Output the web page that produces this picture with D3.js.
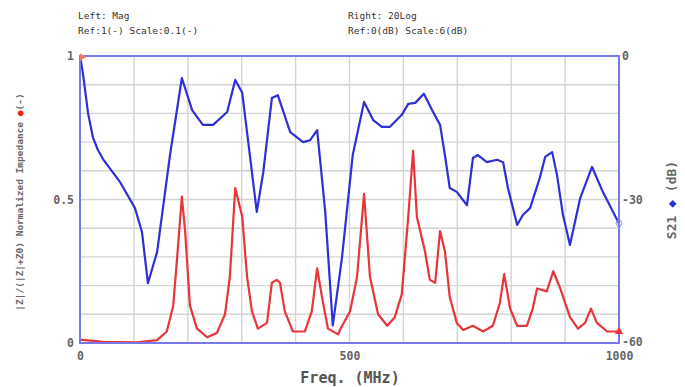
<!DOCTYPE html>
<html>
<head>
<meta charset="utf-8">
<script src="https://cdn.jsdelivr.net/npm/d3@7"></script>
<style>
  html, body { margin: 0; padding: 0; background: #fff; }
  svg { display: block; }
  text { font-family: "DejaVu Sans Mono", "Liberation Mono", monospace; }
</style>
</head>
<body>
<svg id="chart" width="685" height="387"></svg>
<script>
// ---- data ----
const blueFreq = [0, 5, 9, 15, 24, 33, 43, 74, 102, 115, 126, 143, 167, 189, 208, 228, 247, 273, 288, 301, 328, 340, 356, 367, 390, 414, 427, 440, 455, 469, 486, 506, 527, 544, 560, 575, 597, 609, 622, 638, 655, 668, 677, 686, 699, 718, 729, 738, 755, 774, 785, 794, 811, 822, 835, 853, 863, 876, 885, 896, 909, 928, 950, 970, 1000];
const blueDb = [0, -3.3, -6.7, -12.0, -17.0, -19.6, -21.6, -26.3, -31.8, -36.8, -47.5, -41.0, -20.7, -4.6, -11.3, -14.4, -14.4, -11.7, -5.0, -7.7, -32.6, -24.3, -8.8, -8.2, -15.9, -18.0, -17.6, -15.5, -32.6, -56.3, -42.2, -20.7, -9.6, -13.4, -14.8, -14.8, -12.3, -10.0, -9.8, -7.9, -11.7, -14.4, -20.7, -27.6, -28.4, -31.2, -21.3, -20.7, -22.2, -21.7, -22.2, -27.6, -35.3, -33.2, -31.8, -25.5, -21.1, -20.1, -24.9, -33.2, -39.5, -29.7, -23.2, -28.4, -35.0];

const redFreq = [0, 43, 106, 143, 161, 173, 182, 189, 195, 204, 217, 236, 254, 269, 278, 288, 301, 310, 319, 330, 347, 356, 365, 371, 380, 395, 417, 430, 440, 449, 460, 479, 482, 501, 514, 527, 538, 553, 570, 584, 597, 609, 618, 625, 640, 649, 659, 668, 677, 686, 699, 711, 729, 748, 766, 779, 787, 798, 811, 829, 840, 848, 866, 878, 891, 909, 924, 937, 948, 959, 978, 1000];
const redMag = [0.012, 0.004, 0.002, 0.01, 0.04, 0.13, 0.34, 0.51, 0.39, 0.13, 0.05, 0.02, 0.035, 0.10, 0.23, 0.54, 0.44, 0.23, 0.11, 0.05, 0.07, 0.21, 0.22, 0.21, 0.11, 0.04, 0.04, 0.11, 0.26, 0.16, 0.05, 0.03, 0.045, 0.11, 0.23, 0.52, 0.23, 0.10, 0.06, 0.09, 0.17, 0.44, 0.67, 0.44, 0.32, 0.22, 0.21, 0.39, 0.32, 0.16, 0.07, 0.045, 0.06, 0.04, 0.06, 0.14, 0.24, 0.12, 0.06, 0.06, 0.12, 0.19, 0.18, 0.25, 0.19, 0.09, 0.05, 0.07, 0.12, 0.07, 0.04, 0.04];

const xTickValues = [0, 500, 1000];
const leftTickValues = [0, 0.5, 1];
const rightTickValues = [0, -30, -60];
const gridXValues = d3.range(0, 1001, 100);
const gridYValues = d3.range(0, 1.0001, 0.1);

// ---- layout ----
const svg = d3.select("#chart");
const L = 80, R = 619, T = 56, B = 343;

const x = d3.scaleLinear().domain([0, 1000]).range([L, R]);
const yL = d3.scaleLinear().domain([0, 1]).range([B, T]);
const yR = d3.scaleLinear().domain([-60, 0]).range([B, T]);

// grid
svg.append("g").selectAll("line").data(gridXValues).join("line")
  .attr("x1", d => x(d)).attr("x2", d => x(d))
  .attr("y1", T).attr("y2", B)
  .attr("stroke", "#d4d4d4").attr("stroke-width", 1.4);
svg.append("g").selectAll("line").data(gridYValues).join("line")
  .attr("x1", L).attr("x2", R)
  .attr("y1", d => yL(d)).attr("y2", d => yL(d))
  .attr("stroke", "#d4d4d4").attr("stroke-width", 1.4);

// axes
const tickColor = "#666";
const gx = svg.append("g").attr("transform", `translate(0,${B})`)
  .call(d3.axisBottom(x).tickValues(xTickValues).tickSize(0).tickPadding(9).tickFormat(d3.format("d")));
const gl = svg.append("g").attr("transform", `translate(${L},0)`)
  .call(d3.axisLeft(yL).tickValues(leftTickValues).tickSize(0).tickPadding(6).tickFormat(d => d === 0.5 ? "0.5" : String(d)));
const gr = svg.append("g").attr("transform", `translate(${R},0)`)
  .call(d3.axisRight(yR).tickValues(rightTickValues).tickSize(0).tickPadding(3).tickFormat(d => String(d)));
[gx, gl, gr].forEach(g => {
  g.select(".domain").remove();
  g.selectAll("text").attr("fill", tickColor).attr("font-size", 11.5).attr("font-weight", "bold")
    .attr("font-family", "DejaVu Sans Mono, monospace");
});
gr.selectAll(".tick").filter(d => d === -60).select("text").attr("dy", "0.2em");

// lines
const blueLine = d3.line().x((d, i) => x(blueFreq[i])).y(d => yR(d));
const redLine = d3.line().x((d, i) => x(redFreq[i])).y(d => yL(d));

svg.append("path").datum(redMag).attr("d", redLine)
  .attr("fill", "none").attr("stroke", "#e8353a").attr("stroke-width", 2.2).attr("stroke-linejoin", "round");
svg.append("path").datum(blueDb).attr("d", blueLine)
  .attr("fill", "none").attr("stroke", "#2f2fd6").attr("stroke-width", 2.2).attr("stroke-linejoin", "round");

// frame
svg.append("rect").attr("x", L).attr("y", T).attr("width", R - L).attr("height", B - T)
  .attr("fill", "none").attr("stroke", "#7777ee").attr("stroke-width", 2);

// end markers
const lastB = blueDb.length - 1, lastR = redMag.length - 1;
svg.append("path").attr("d", d3.symbol(d3.symbolDiamond, 30)())
  .attr("transform", `translate(${x(blueFreq[lastB])},${yR(blueDb[lastB])})`)
  .attr("fill", "none").attr("stroke", "#8888ee").attr("stroke-width", 1);
svg.append("path").attr("d", d3.symbol(d3.symbolTriangle, 30)())
  .attr("transform", `translate(${x(redFreq[lastR])},${yL(redMag[lastR])})`)
  .attr("fill", "#e8353a");
svg.append("path").attr("d", d3.symbol(d3.symbolTriangle, 24)())
  .attr("transform", `translate(${x(0) + 2},${yL(1) + 1}) rotate(90)`)
  .attr("fill", "#f07a6a");

// header
const hdr = svg.append("g").attr("fill", "#333").attr("font-size", 9.5);
hdr.append("text").attr("x", 78).attr("y", 19).text("Left: Mag");
hdr.append("text").attr("x", 78).attr("y", 34).text("Ref:1(-) Scale:0.1(-)");
hdr.append("text").attr("x", 348).attr("y", 19).text("Right: 20Log");
hdr.append("text").attr("x", 348).attr("y", 34).text("Ref:0(dB) Scale:6(dB)");

// x title
svg.append("text").attr("x", 350).attr("y", 383).attr("text-anchor", "middle")
  .attr("fill", "#555").attr("font-size", 15).attr("font-weight", "bold").text("Freq. (MHz)");

// left axis label
const ll = svg.append("text").attr("transform", `translate(23,202) rotate(-90)`)
  .attr("text-anchor", "middle").attr("fill", "#666").attr("font-size", 9.5).attr("font-weight", "bold");
ll.append("tspan").text("|Z|/(|Z|+Z0) Normalized Impedance ");
ll.append("tspan").attr("fill", "#ee2222").text("●");
ll.append("tspan").text("(-)");

// right axis label
const rl = svg.append("text").attr("transform", `translate(676,200) rotate(-90)`)
  .attr("text-anchor", "middle").attr("fill", "#666").attr("font-size", 13).attr("font-weight", "bold");
rl.append("tspan").text("S21 ");
rl.append("tspan").attr("fill", "#2f2fd6").text("◆");
rl.append("tspan").text(" (dB)");
</script>
</body>
</html>
